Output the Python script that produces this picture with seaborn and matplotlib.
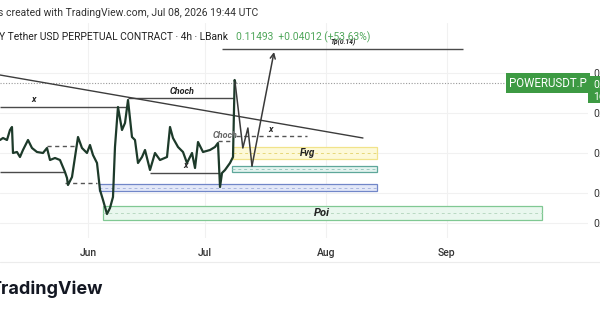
import numpy as np
import pandas as pd
import matplotlib
matplotlib.use("Agg")
import matplotlib.pyplot as plt
import matplotlib.dates as mdates
from matplotlib.patches import Rectangle
from matplotlib.lines import Line2D
import seaborn as sns

# ---------------- data ----------------
BASE = pd.Timestamp("2026-06-01")
# days after 2026-06-01 and 4h price path of POWERUSDT.P
day_offsets = [-22.56, -21.79, -20.77, -20.0, -19.49, -19.23, -18.21, -17.44, -16.67,
               -15.38, -14.36, -13.08, -11.54, -10.51, -9.74, -8.46, -7.18, -5.90,
               -5.38, -5.13, -4.10, -3.33, -2.56, -1.54, -0.26, 0.51, 1.28, 2.31,
               3.08, 3.85, 4.87, 5.64, 6.41, 6.92, 7.69, 8.72, 9.49, 10.26, 11.28,
               12.05, 12.82, 13.85, 14.62, 15.90, 17.18, 18.46, 20.26, 21.03, 21.79,
               23.08, 24.36, 25.38, 26.67, 27.44, 28.21, 29.49, 31.28, 32.56, 33.33,
               33.85, 34.36, 35.13, 36.41, 37.18, 37.60, 37.80]
close_prices = [0.0865, 0.0875, 0.0865, 0.0915, 0.0930, 0.0800, 0.0805, 0.0780, 0.0815,
                0.0865, 0.0825, 0.0805, 0.0800, 0.0825, 0.0765, 0.0775, 0.0765, 0.0705,
                0.0675, 0.0640, 0.0680, 0.0780, 0.0880, 0.0825, 0.0800, 0.0840, 0.0790,
                0.0750, 0.0615, 0.0565, 0.0495, 0.0525, 0.0580, 0.0830, 0.1030, 0.0915,
                0.0950, 0.1065, 0.0880, 0.0865, 0.0750, 0.0780, 0.0815, 0.0715, 0.0800,
                0.0765, 0.0780, 0.0930, 0.0875, 0.0830, 0.0805, 0.0750, 0.0800, 0.0725,
                0.0855, 0.0805, 0.0815, 0.0830, 0.0850, 0.0630, 0.0700, 0.0715, 0.0750,
                0.0780, 0.1165, 0.11493]

last_price = 0.11493
change_text = "+0.04012 (+53.63%)"

# zones: Fvg, unnamed teal, unnamed blue, Poi
zone_names = ["Fvg", "", "", "Poi"]
zone_start = [37.2, 36.9, 2.8, 3.85]
zone_end = [74.1, 74.1, 74.1, 116.4]
zone_low = [0.0770, 0.0705, 0.0610, 0.0465]
zone_high = [0.0830, 0.0735, 0.0645, 0.0535]

# horizontal structure lines
level_start = [-22.56, 10.26, -22.56, -10.5, -5.9, 15.9, 33.3, 38.0, 34.4]
level_end = [10.26, 37.44, -5.9, -2.8, 2.3, 33.85, 37.2, 56.2, 96.2]
level_price = [0.1030, 0.1075, 0.0705, 0.0835, 0.0650, 0.0700, 0.0860, 0.0885, 0.1320]
level_dashed = [False, False, False, True, True, False, True, True, False]

# descending trend line
trend_days = [-22.56, 70.5]
trend_prices = [0.1190, 0.0875]

# projected path
proj_days = [37.7, 39.7, 41.0, 42.05]
proj_prices = [0.1155, 0.0825, 0.0925, 0.0735]
proj_target_day = 47.7
proj_target_price = 0.1305

# text labels on chart
label_texts = ["x", "Choch", "x", "Choch", "x", "Fvg", "Poi", "Tp(0.14)"]
label_days = [-13.85, 24.1, 25.1, 35.1, 46.7, 56.2, 60.0, 65.4]
label_prices = [0.1065, 0.1105, 0.0735, 0.0890, 0.0915, 0.0800, 0.0500, 0.1355]

month_ticks = ["2026-06-01", "2026-07-01", "2026-08-01", "2026-09-01"]
price_ticks = [0.045, 0.06, 0.08, 0.10, 0.12]


def d(x):
    return mdates.date2num(BASE + pd.Timedelta(days=x))


# ---------------- figure ----------------
sns.set_theme(style="white")
plt.rcParams['font.family'] = ['Roboto', 'DejaVu Sans']

W, H = 600, 315
fig = plt.figure(figsize=(6, 3.15), dpi=100)
ax = fig.add_axes([0, 1 - 238 / H, 588 / W, 215 / H])

# zones
zone_face = ["#fdf9d8", "#e3f3ef", "#e3e8f8", "#e9f7ee"]
zone_edge = ["#f1e38a", "#5ea79a", "#7186c8", "#80c893"]
zone_mid = ["#e6d77a", "#9cc9c0", "#a9b6df", "#b9d9c2"]
for i in range(len(zone_names)):
    x0, x1 = d(zone_start[i]), d(zone_end[i])
    ax.add_patch(Rectangle((x0, zone_low[i]), x1 - x0, zone_high[i] - zone_low[i],
                           facecolor=zone_face[i], edgecolor=zone_edge[i], lw=0.9, zorder=1))
    mid = (zone_low[i] + zone_high[i]) / 2
    ax.hlines(mid, x0, x1, colors=zone_mid[i], lw=0.7, linestyles=(0, (3, 3)), zorder=1.1)

# price path
df = pd.DataFrame({"time": [BASE + pd.Timedelta(days=v) for v in day_offsets],
                   "price": close_prices})
sns.lineplot(data=df, x="time", y="price", ax=ax, color="#1d3a2a", lw=1.6, zorder=3)

# current price dotted line
ax.hlines(last_price, d(-22.56), d(107.0), colors="#9a9a9a", lw=0.8,
          linestyles=(0, (1, 1.5)), zorder=2)

# structure lines
for s, e, p, dash in zip(level_start, level_end, level_price, level_dashed):
    ax.hlines(p, d(s), d(e), colors="#4a4a4a" if not dash else "#555555", lw=1.0,
              linestyles=(0, (3, 2.5)) if dash else "solid", zorder=2.5)

# trend line
ax.plot([d(v) for v in trend_days], trend_prices, color="#3c3c3c", lw=1.0, zorder=2.5)

# projection
ax.plot([d(v) for v in proj_days], proj_prices, color="#3a3a3a", lw=1.1, zorder=3)
ax.annotate("", xy=(d(proj_target_day), proj_target_price),
            xytext=(d(proj_days[-1]), proj_prices[-1]),
            arrowprops=dict(arrowstyle="->", color="#3a3a3a", lw=1.1,
                            mutation_scale=9, shrinkA=0, shrinkB=0), zorder=3)

# labels
label_size = [6.5, 6.5, 6.5, 6.5, 6.5, 7, 8, 4.8]
label_color = ["#222", "#222", "#222", "#666", "#222", "#222", "#222", "#222"]
for t, x, p, fs, c in zip(label_texts, label_days, label_prices, label_size, label_color):
    ax.text(d(x), p, t, ha="center", va="center", fontsize=fs, color=c,
            fontweight="bold", fontstyle="italic", zorder=4)

# POWERUSDT.P tag
ax.text(d(117.9), last_price, "POWERUSDT.P", ha="center", va="center", fontsize=8.3,
        color="white", zorder=5,
        bbox=dict(boxstyle="square,pad=0.28", fc="#3d9a43", ec="none"))

# axes styling
ax.set_xlim(d(-22.56), d(128.2))
ax.set_ylim(0.0375, 0.145)
ax.xaxis.set_major_locator(mdates.MonthLocator(bymonth=[6, 7, 8, 9]))
ax.xaxis.set_major_formatter(mdates.DateFormatter("%b"))
ax.set_yticks(price_ticks)
ax.yaxis.set_major_formatter(matplotlib.ticker.FormatStrFormatter("%.5f"))
ax.yaxis.tick_right()
ax.tick_params(axis="both", length=0, labelsize=7.5, colors="#333333")
ax.tick_params(axis="x", pad=7)
ax.tick_params(axis="y", pad=4)
ax.grid(True, color="#f1f1f1", lw=0.8)
ax.set_axisbelow(True)
ax.set_xlabel("")
ax.set_ylabel("")
for sp in ax.spines.values():
    sp.set_visible(False)
for lab in ax.get_xticklabels():
    lab.set_fontweight("medium")

# price box on the scale
fig.patches.append(Rectangle((588 / W, 1 - 103 / H), 12 / W, 27 / H, transform=fig.transFigure,
                             facecolor="#3d9a43", edgecolor="none", figure=fig, zorder=5))
fig.text(593.5 / W, 1 - 85 / H, f"{last_price:.5f}", fontsize=7.5, color="white",
         va="center", ha="left", zorder=6)
fig.text(593.5 / W, 1 - 97 / H, "16:15", fontsize=7.5, color="white",
         va="center", ha="left", zorder=6)

# header
fig.text(-2 / W, 1 - 13 / H, "s created with TradingView.com, Jul 08, 2026 19:44 UTC",
         fontsize=7.5, color="#333333", va="center", ha="left")
fig.text(-1 / W, 1 - 37 / H, "Y Tether USD PERPETUAL CONTRACT · 4h · LBank",
         fontsize=7.4, color="#222222", va="center", ha="left")
fig.text(236 / W, 1 - 37 / H, f"{last_price:.5f}  {change_text}",
         fontsize=7.4, color="#4fa65a", va="center", ha="left")

# separator under time scale and logo
fig.add_artist(Line2D([0, 1], [1 - 262 / H] * 2, color="#ececec", lw=0.8))
fig.text(-10.5 / W, 1 - 289 / H, "TradingView", fontsize=13, fontweight="bold",
         color="#131722", va="center", ha="left", family=["Inter", "DejaVu Sans"])

fig.savefig("out.png", dpi=100, facecolor="white")
